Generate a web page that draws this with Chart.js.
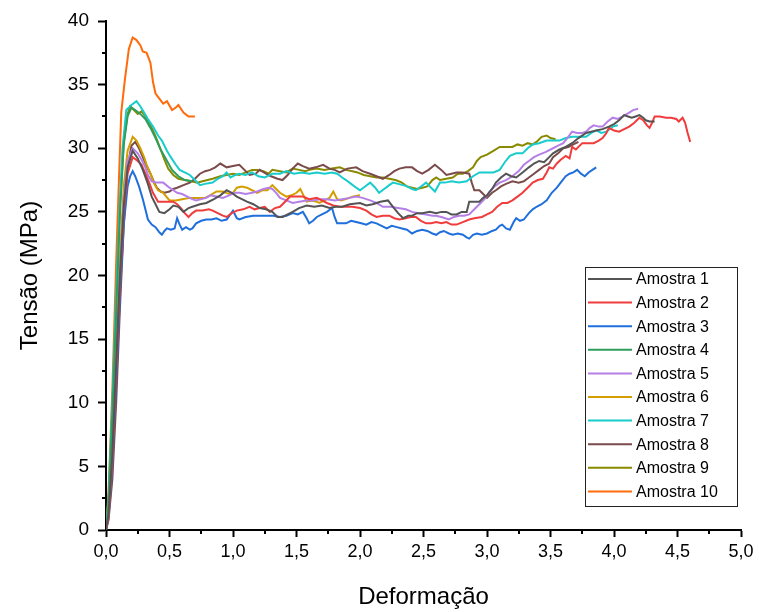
<!DOCTYPE html>
<html>
<head>
<meta charset="utf-8">
<title>Tensão x Deformação</title>
<script src="https://cdn.jsdelivr.net/npm/chart.js@4/dist/chart.umd.min.js"></script>
<style>
  html, body { margin: 0; padding: 0; background: #fff; }
  #wrap { width: 759px; height: 612px; }
</style>
</head>
<body>
<div id="wrap"><canvas id="stressChart" width="759" height="612"></canvas></div>
<script>
// Strain / stress readings for each specimen
const strain1 = [0, 0.02, 0.05, 0.08, 0.11, 0.14, 0.17, 0.21, 0.25, 0.29, 0.33, 0.36, 0.39, 0.42, 0.46, 0.5, 0.53, 0.57, 0.61, 0.65, 0.68, 0.74, 0.79, 0.85, 0.9, 0.95, 0.99, 1.03, 1.07, 1.11, 1.16, 1.21, 1.26, 1.31, 1.35, 1.39, 1.43, 1.47, 1.52, 1.58, 1.64, 1.7, 1.76, 1.81, 1.86, 1.92, 2.0, 2.05, 2.1, 2.16, 2.22, 2.26, 2.3, 2.34, 2.38, 2.41, 2.45, 2.49, 2.55, 2.6, 2.64, 2.68, 2.72, 2.76, 2.8, 2.84, 2.86, 2.9, 2.94, 2.97, 3.0, 3.04, 3.07, 3.11, 3.15, 3.19, 3.23, 3.28, 3.33, 3.37, 3.41, 3.45, 3.49, 3.52, 3.57, 3.62, 3.67, 3.72, 3.78, 3.82, 3.86, 3.91, 3.96, 4.0, 4.04, 4.08, 4.11, 4.14, 4.17, 4.2, 4.23, 4.25, 4.28, 4.32];
const stress1 = [0, 1.2, 6, 13, 20, 25.5, 28.5, 29.8, 29.2, 28.3, 27.2, 26.2, 25.6, 25.0, 24.9, 25.2, 25.5, 25.4, 25.0, 25.3, 25.4, 25.6, 25.7, 26.0, 26.3, 26.7, 26.5, 26.2, 26.0, 25.8, 25.6, 25.3, 25.2, 25.0, 24.6, 24.6, 24.8, 25.0, 25.3, 25.5, 25.4, 25.5, 25.3, 25.4, 25.4, 25.6, 25.7, 25.5, 25.6, 25.8, 25.9, 25.4, 24.9, 24.5, 24.7, 24.7, 24.9, 24.9, 25.0, 24.9, 25.0, 25.0, 24.8, 24.8, 25.0, 25.0, 25.8, 25.8, 25.8, 26.1, 26.3, 26.8, 27.3, 27.7, 28.0, 27.8, 27.7, 28.1, 28.5, 28.8, 29.0, 28.9, 29.3, 29.6, 29.9, 30.1, 30.4, 30.8, 31.2, 31.3, 31.4, 31.5, 31.7, 31.9, 32.2, 32.6, 32.5, 32.4, 32.5, 32.6, 32.4, 32.2, 32.1, 32.1];

const strain2 = [0, 0.02, 0.05, 0.08, 0.11, 0.14, 0.17, 0.21, 0.25, 0.28, 0.31, 0.34, 0.37, 0.41, 0.45, 0.49, 0.53, 0.56, 0.59, 0.62, 0.65, 0.68, 0.71, 0.76, 0.81, 0.84, 0.88, 0.92, 0.95, 0.99, 1.03, 1.08, 1.13, 1.17, 1.21, 1.25, 1.29, 1.33, 1.37, 1.41, 1.45, 1.5, 1.55, 1.6, 1.66, 1.7, 1.74, 1.79, 1.84, 1.9, 1.94, 2.0, 2.05, 2.09, 2.13, 2.18, 2.23, 2.27, 2.31, 2.36, 2.4, 2.44, 2.48, 2.52, 2.56, 2.6, 2.64, 2.68, 2.72, 2.76, 2.81, 2.86, 2.9, 2.96, 3.0, 3.04, 3.08, 3.12, 3.16, 3.2, 3.24, 3.28, 3.32, 3.36, 3.4, 3.44, 3.47, 3.49, 3.52, 3.55, 3.58, 3.62, 3.65, 3.67, 3.7, 3.75, 3.8, 3.84, 3.88, 3.91, 3.94, 3.96, 4.0, 4.04, 4.08, 4.12, 4.16, 4.2, 4.23, 4.26, 4.28, 4.3, 4.32, 4.36, 4.41, 4.45, 4.49, 4.51, 4.54, 4.56, 4.58, 4.6];
const stress2 = [0, 1.0, 5.5, 12.5, 19.5, 25, 28, 29.3, 29.0, 28.7, 28.0, 27.3, 26.5, 25.8, 25.8, 25.8, 25.8, 25.6, 25.3, 24.9, 24.6, 24.9, 25.1, 25.1, 25.2, 25.1, 24.9, 24.7, 24.6, 24.9, 25.1, 25.2, 25.4, 25.2, 25.3, 25.4, 25.0, 25.3, 25.4, 25.8, 26.2, 26.2, 26.2, 26.0, 26.1, 25.9, 25.7, 25.5, 25.4, 25.4, 25.4, 25.3, 25.1, 24.8, 24.6, 24.7, 24.7, 24.5, 24.4, 24.5, 24.6, 24.6, 24.3, 24.1, 24.1, 24.2, 24.1, 24.2, 24.0, 24.0, 24.2, 24.4, 24.5, 24.6, 24.8, 25.0, 25.4, 25.7, 25.7, 25.9, 26.2, 26.5, 26.9, 27.3, 27.5, 27.6, 28.1, 28.5, 28.4, 28.8, 29.1, 29.4, 29.2, 30.1, 29.9, 30.4, 30.4, 30.4, 30.6, 30.8, 31.2, 31.6, 31.4, 31.3, 31.5, 31.7, 32.0, 32.4, 32.2, 31.8, 31.6, 32.0, 32.5, 32.5, 32.4, 32.4, 32.3, 32.1, 32.4, 32.0, 31.2, 30.5];

const strain3 = [0, 0.02, 0.05, 0.08, 0.11, 0.14, 0.17, 0.19, 0.21, 0.23, 0.26, 0.29, 0.31, 0.33, 0.36, 0.39, 0.42, 0.44, 0.46, 0.48, 0.51, 0.54, 0.56, 0.58, 0.6, 0.63, 0.66, 0.68, 0.71, 0.75, 0.79, 0.83, 0.87, 0.91, 0.95, 1.0, 1.03, 1.05, 1.1, 1.16, 1.21, 1.27, 1.32, 1.37, 1.42, 1.47, 1.51, 1.55, 1.58, 1.6, 1.63, 1.66, 1.7, 1.74, 1.78, 1.8, 1.82, 1.86, 1.89, 1.93, 1.97, 2.01, 2.05, 2.09, 2.13, 2.17, 2.21, 2.25, 2.29, 2.33, 2.37, 2.41, 2.45, 2.49, 2.53, 2.57, 2.6, 2.63, 2.66, 2.7, 2.73, 2.77, 2.81, 2.84, 2.86, 2.89, 2.92, 2.96, 3.0, 3.04, 3.07, 3.1, 3.12, 3.15, 3.18, 3.21, 3.23, 3.26, 3.29, 3.33, 3.36, 3.39, 3.43, 3.47, 3.51, 3.55, 3.58, 3.62, 3.65, 3.68, 3.71, 3.74, 3.77, 3.8, 3.83, 3.86];
const stress3 = [0, 1.0, 5, 11.5, 18.5, 24, 27, 27.8, 28.2, 27.8, 27.0, 26.0, 25.2, 24.4, 24.0, 23.8, 23.4, 23.2, 23.5, 23.7, 23.6, 23.7, 24.5, 24.0, 23.6, 23.8, 23.6, 23.7, 24.1, 24.3, 24.4, 24.4, 24.5, 24.3, 24.4, 25.1, 24.5, 24.4, 24.6, 24.7, 24.7, 24.7, 24.7, 24.6, 24.7, 24.9, 24.8, 25.0, 24.5, 24.1, 24.3, 24.6, 24.8, 25.0, 25.3, 24.6, 24.1, 24.1, 24.1, 24.3, 24.2, 24.1, 24.0, 24.2, 24.1, 23.9, 23.7, 23.9, 23.8, 23.7, 23.6, 23.3, 23.5, 23.6, 23.5, 23.3, 23.2, 23.4, 23.5, 23.3, 23.2, 23.3, 23.2, 23.0, 22.9, 23.2, 23.3, 23.2, 23.3, 23.5, 23.6, 23.9, 24.0, 23.7, 23.6, 24.2, 24.5, 24.3, 24.4, 24.9, 25.2, 25.4, 25.6, 25.9, 26.5, 26.9, 27.3, 27.8, 28.0, 28.1, 28.3, 28.0, 27.8, 28.1, 28.3, 28.5];

const strain4 = [0, 0.02, 0.05, 0.08, 0.11, 0.14, 0.17, 0.2, 0.23, 0.27, 0.31, 0.35, 0.39, 0.43, 0.47, 0.52, 0.57, 0.62, 0.68];
const stress4 = [0, 2.0, 9, 17, 25, 30.3, 32.5, 33.2, 33.0, 32.7, 32.3, 31.6, 30.8, 29.9, 29.2, 28.3, 27.8, 27.5, 27.4];

const strain5 = [0, 0.02, 0.05, 0.08, 0.11, 0.14, 0.17, 0.21, 0.25, 0.28, 0.31, 0.33, 0.36, 0.4, 0.45, 0.5, 0.53, 0.56, 0.6, 0.64, 0.68, 0.71, 0.75, 0.79, 0.82, 0.87, 0.92, 0.97, 1.01, 1.05, 1.1, 1.15, 1.19, 1.24, 1.28, 1.31, 1.34, 1.37, 1.42, 1.47, 1.52, 1.58, 1.63, 1.68, 1.74, 1.8, 1.86, 1.92, 1.97, 2.02, 2.08, 2.13, 2.18, 2.24, 2.3, 2.36, 2.41, 2.46, 2.52, 2.57, 2.6, 2.64, 2.7, 2.74, 2.78, 2.82, 2.86, 2.9, 2.94, 2.98, 3.02, 3.06, 3.1, 3.15, 3.2, 3.25, 3.29, 3.33, 3.37, 3.41, 3.46, 3.52, 3.56, 3.6, 3.64, 3.67, 3.71, 3.75, 3.78, 3.81, 3.84, 3.88, 3.91, 3.95, 3.99, 4.03, 4.07, 4.12, 4.15, 4.19];
const stress5 = [0, 1.2, 6, 13, 20.5, 26, 29, 30.0, 29.6, 29.1, 28.5, 27.9, 27.4, 27.3, 27.3, 26.9, 26.7, 26.5, 26.4, 26.2, 26.0, 25.9, 26.0, 26.1, 26.3, 26.2, 26.1, 26.3, 26.5, 26.5, 26.4, 26.5, 26.6, 26.8, 26.9, 26.8, 26.5, 26.1, 25.9, 25.7, 25.8, 25.9, 25.9, 26.0, 26.0, 25.9, 26.0, 26.1, 26.2, 26.1, 25.9, 25.7, 25.4, 25.4, 25.3, 25.2, 25.0, 24.9, 24.8, 24.7, 24.7, 24.6, 24.4, 24.6, 24.7, 24.7, 24.8, 25.2, 25.6, 26.0, 26.6, 27.0, 27.3, 27.5, 27.8, 28.2, 28.7, 29.0, 29.3, 29.5, 29.7, 30.0, 30.2, 30.4, 30.9, 31.3, 31.2, 31.2, 31.3, 31.6, 31.8, 31.7, 31.7, 32.1, 32.4, 32.3, 32.5, 32.8, 33.0, 33.1];

const strain6 = [0, 0.02, 0.05, 0.08, 0.11, 0.14, 0.17, 0.21, 0.24, 0.27, 0.3, 0.32, 0.35, 0.38, 0.41, 0.45, 0.5, 0.55, 0.6, 0.66, 0.72, 0.78, 0.82, 0.87, 0.92, 0.97, 1.0, 1.03, 1.07, 1.11, 1.15, 1.19, 1.23, 1.27, 1.31, 1.34, 1.37, 1.42, 1.46, 1.5, 1.53, 1.56, 1.58, 1.62, 1.66, 1.68, 1.72, 1.76, 1.79, 1.82, 1.85, 1.89, 1.94, 2.0];
const stress6 = [0, 1.5, 7, 14, 21.5, 27, 29.8, 30.9, 30.6, 30.0, 29.3, 28.7, 28.0, 27.2, 26.7, 26.5, 25.9, 25.9, 26.0, 26.1, 26.1, 26.1, 26.3, 26.6, 26.6, 26.4, 26.5, 26.9, 27.0, 26.9, 26.7, 26.5, 26.7, 26.7, 27.1, 26.8, 26.5, 26.2, 26.3, 26.5, 26.8, 26.2, 25.8, 25.9, 25.8, 25.7, 25.9, 26.1, 26.6, 26.0, 25.9, 26.0, 26.2, 26.3];

const strain7 = [0, 0.02, 0.05, 0.08, 0.11, 0.13, 0.16, 0.2, 0.24, 0.27, 0.3, 0.33, 0.37, 0.41, 0.44, 0.48, 0.51, 0.55, 0.58, 0.62, 0.66, 0.7, 0.74, 0.78, 0.84, 0.88, 0.92, 0.95, 0.98, 1.02, 1.05, 1.1, 1.15, 1.2, 1.25, 1.31, 1.37, 1.42, 1.48, 1.54, 1.6, 1.66, 1.72, 1.78, 1.82, 1.86, 1.89, 1.93, 1.97, 2.0, 2.04, 2.08, 2.12, 2.15, 2.19, 2.23, 2.26, 2.3, 2.34, 2.37, 2.41, 2.44, 2.48, 2.52, 2.56, 2.59, 2.63, 2.67, 2.72, 2.78, 2.84, 2.89, 2.94, 3.0, 3.05, 3.1, 3.14, 3.18, 3.23, 3.28, 3.32, 3.36, 3.41, 3.47, 3.52, 3.57, 3.62, 3.67, 3.72, 3.78, 3.82, 3.86, 3.9, 3.94, 3.99, 4.03];
const stress7 = [0, 2.5, 10, 18.5, 26, 30, 33.0, 33.4, 33.7, 33.3, 32.8, 32.3, 31.7, 31.0, 30.6, 29.8, 29.3, 28.7, 28.3, 28.1, 27.9, 27.5, 27.1, 27.2, 27.3, 27.6, 27.8, 28.1, 27.7, 27.9, 28.0, 27.9, 28.1, 27.8, 27.7, 28.0, 28.0, 28.2, 28.0, 28.1, 28.0, 28.1, 28.0, 28.1, 28.0, 27.7, 27.5, 27.2, 26.9, 26.7, 27.0, 27.3, 26.9, 26.5, 26.8, 27.1, 27.3, 27.2, 27.1, 27.0, 26.8, 26.7, 27.0, 27.3, 26.9, 26.6, 27.3, 27.3, 27.4, 27.3, 27.4, 27.8, 28.1, 28.1, 28.1, 28.3, 28.9, 29.4, 29.6, 29.6, 30.0, 30.3, 30.4, 30.6, 30.6, 30.6, 30.8, 30.9, 30.9, 30.9, 31.2, 31.4, 31.2, 31.3, 31.7, 31.8];

const strain8 = [0, 0.02, 0.05, 0.08, 0.11, 0.14, 0.17, 0.2, 0.23, 0.26, 0.29, 0.32, 0.35, 0.38, 0.4, 0.43, 0.46, 0.5, 0.53, 0.56, 0.61, 0.66, 0.7, 0.74, 0.78, 0.82, 0.86, 0.9, 0.95, 1.0, 1.05, 1.09, 1.13, 1.18, 1.21, 1.26, 1.3, 1.35, 1.39, 1.43, 1.47, 1.51, 1.55, 1.6, 1.65, 1.71, 1.76, 1.8, 1.84, 1.9, 1.97, 2.02, 2.08, 2.13, 2.18, 2.23, 2.27, 2.31, 2.36, 2.41, 2.45, 2.49, 2.54, 2.59, 2.64, 2.68, 2.72, 2.76, 2.81, 2.86, 2.88, 2.9, 2.94, 2.97, 3.0, 3.04, 3.07, 3.11, 3.15, 3.2, 3.25, 3.29, 3.33, 3.37, 3.41, 3.45, 3.49, 3.52, 3.56, 3.6, 3.64, 3.68, 3.72];
const stress8 = [0, 0.8, 4, 10, 17.5, 24, 28.5, 30.2, 30.5, 30.0, 29.3, 28.6, 28.0, 27.3, 26.9, 26.6, 26.5, 26.6, 26.8, 26.9, 27.1, 27.3, 27.6, 28.0, 28.2, 28.3, 28.5, 28.8, 28.5, 28.6, 28.7, 28.3, 27.9, 28.0, 28.3, 28.0, 27.8, 27.6, 27.5, 27.9, 28.4, 28.8, 28.6, 28.4, 28.5, 28.7, 28.4, 28.3, 28.1, 28.4, 28.5, 28.2, 28.0, 27.8, 27.6, 27.9, 28.2, 28.4, 28.5, 28.5, 28.2, 28.0, 28.3, 28.7, 28.3, 27.9, 28.0, 28.1, 28.1, 28.0, 27.3, 26.7, 26.7, 26.4, 26.1, 26.5, 26.7, 27.0, 27.2, 27.4, 27.3, 27.4, 27.7, 28.0, 28.3, 28.6, 28.8, 29.3, 29.6, 30.0, 30.1, 30.3, 30.5];

const strain9 = [0, 0.02, 0.05, 0.08, 0.11, 0.14, 0.17, 0.19, 0.22, 0.25, 0.28, 0.31, 0.34, 0.37, 0.4, 0.43, 0.46, 0.49, 0.53, 0.57, 0.62, 0.67, 0.72, 0.76, 0.8, 0.84, 0.9, 0.95, 1.0, 1.05, 1.1, 1.15, 1.19, 1.24, 1.28, 1.31, 1.37, 1.42, 1.47, 1.52, 1.57, 1.6, 1.66, 1.72, 1.78, 1.84, 1.89, 1.94, 1.98, 2.03, 2.08, 2.13, 2.18, 2.23, 2.28, 2.33, 2.37, 2.41, 2.45, 2.49, 2.53, 2.57, 2.6, 2.63, 2.68, 2.73, 2.77, 2.81, 2.85, 2.89, 2.92, 2.95, 3.0, 3.05, 3.1, 3.15, 3.2, 3.24, 3.28, 3.32, 3.36, 3.39, 3.43, 3.47, 3.5, 3.54];
const stress9 = [0, 2.2, 9.5, 18, 25.5, 30.5, 32.7, 33.3, 33.0, 32.7, 32.9, 32.5, 32.0, 31.4, 30.7, 29.9, 29.1, 28.4, 27.9, 27.6, 27.5, 27.4, 27.3, 27.4, 27.5, 27.6, 27.8, 27.9, 28.0, 27.9, 28.1, 28.3, 28.3, 28.2, 28.0, 28.3, 28.2, 28.1, 28.4, 28.3, 28.2, 28.3, 28.4, 28.3, 28.4, 28.5, 28.3, 28.2, 28.1, 27.9, 27.8, 27.7, 27.7, 27.6, 27.5, 27.3, 27.0, 26.9, 26.8, 26.9, 27.0, 27.5, 27.7, 27.5, 27.6, 27.7, 28.0, 28.0, 28.2, 28.5, 29.0, 29.3, 29.5, 29.8, 30.1, 30.1, 30.1, 30.3, 30.2, 30.4, 30.3, 30.5, 30.9, 31.0, 30.8, 30.7];

const strain10 = [0, 0.02, 0.05, 0.08, 0.1, 0.12, 0.15, 0.18, 0.21, 0.24, 0.27, 0.29, 0.32, 0.35, 0.37, 0.39, 0.42, 0.45, 0.48, 0.52, 0.55, 0.57, 0.61, 0.65, 0.7];
const stress10 = [0, 3, 11, 21, 27, 32.8, 35.5, 37.8, 38.7, 38.5, 38.1, 37.6, 37.5, 36.7, 35.2, 34.3, 33.9, 33.5, 33.7, 33.0, 33.2, 33.4, 32.8, 32.5, 32.5];

const sampleLabels = ['Amostra 1', 'Amostra 2', 'Amostra 3', 'Amostra 4', 'Amostra 5',
                      'Amostra 6', 'Amostra 7', 'Amostra 8', 'Amostra 9', 'Amostra 10'];
const sampleColors = ['#545454', '#f03c3c', '#1f6fdc', '#2e9e5e', '#b57fe6',
                      '#d29e00', '#19cccc', '#7b4a4a', '#8a8a00', '#ff6a0a'];
const strains = [strain1, strain2, strain3, strain4, strain5, strain6, strain7, strain8, strain9, strain10];
const stresses = [stress1, stress2, stress3, stress4, stress5, stress6, stress7, stress8, stress9, stress10];

const FONT = "'Liberation Sans', Arial, sans-serif";

const datasets = sampleLabels.map((label, i) => ({
    label: label,
    data: strains[i].map((x, j) => ({ x: x, y: stresses[i][j] })),
    borderColor: sampleColors[i],
    backgroundColor: sampleColors[i],
    borderWidth: 2,
    pointRadius: 0,
    showLine: true,
    tension: 0
}));

// Short minor ticks half way between the labelled ones
const minorTicks = {
    id: 'minorTicks',
    afterDraw(chart) {
        const ctx = chart.ctx;
        const xs = chart.scales.x, ys = chart.scales.y;
        const area = chart.chartArea;
        ctx.save();
        ctx.strokeStyle = '#000';
        ctx.lineWidth = 2;
        ctx.beginPath();
        for (let v = 0.25; v < 5; v += 0.5) {
            const px = Math.round(xs.getPixelForValue(v));
            ctx.moveTo(px, area.bottom);
            ctx.lineTo(px, area.bottom + 4);
        }
        for (let v = 2.5; v < 40; v += 5) {
            const py = Math.round(ys.getPixelForValue(v));
            ctx.moveTo(area.left, py);
            ctx.lineTo(area.left - 4, py);
        }
        ctx.stroke();
        ctx.restore();
    }
};

// Boxed legend inside the lower right of the plot
const boxLegend = {
    id: 'boxLegend',
    afterDraw(chart) {
        const ctx = chart.ctx;
        const area = chart.chartArea;
        const boxW = 152, rowH = 23.6;
        const boxH = rowH * chart.data.datasets.length + 3;
        const left = area.right - boxW - 4;
        const top = area.bottom - boxH - 24;
        ctx.save();
        ctx.fillStyle = '#fff';
        ctx.fillRect(left, top, boxW, boxH);
        ctx.strokeStyle = '#222';
        ctx.lineWidth = 1;
        ctx.strokeRect(left + 0.5, top + 0.5, boxW, boxH);
        ctx.font = '16px ' + FONT;
        ctx.textBaseline = 'middle';
        chart.data.datasets.forEach((ds, i) => {
            const y = top + 12 + i * rowH;
            ctx.strokeStyle = ds.borderColor;
            ctx.lineWidth = 2;
            ctx.beginPath();
            ctx.moveTo(left + 3, y);
            ctx.lineTo(left + 47, y);
            ctx.stroke();
            ctx.fillStyle = '#000';
            ctx.fillText(ds.label, left + 51, y + 1);
        });
        ctx.restore();
    }
};

const commaLabel = v => v.toFixed(1).replace('.', ',');

new Chart(document.getElementById('stressChart').getContext('2d'), {
    type: 'scatter',
    data: { datasets: datasets },
    options: {
        responsive: false,
        animation: false,
        layout: { padding: { left: 16, top: 21, right: 18, bottom: 0 } },
        plugins: {
            legend: { display: false },
            tooltip: { enabled: false }
        },
        scales: {
            x: {
                type: 'linear',
                min: 0,
                max: 5,
                afterFit: scale => { scale.height = 82; },
                ticks: {
                    stepSize: 0.5,
                    color: '#000',
                    padding: 4,
                    maxRotation: 0,
                    font: { family: FONT, size: 18 },
                    callback: v => commaLabel(v)
                },
                grid: { drawOnChartArea: false, tickLength: 7, tickWidth: 2, tickColor: '#000' },
                border: { color: '#000', width: 2 },
                title: {
                    display: true,
                    text: 'Deformação',
                    color: '#000',
                    padding: { top: 0, bottom: 0 },
                    font: { family: FONT, size: 24 }
                }
            },
            y: {
                type: 'linear',
                min: 0,
                max: 40,
                afterFit: scale => { scale.width = 90; },
                ticks: {
                    stepSize: 5,
                    color: '#000',
                    padding: 9,
                    font: { family: FONT, size: 19 }
                },
                grid: { drawOnChartArea: false, tickLength: 8, tickWidth: 2, tickColor: '#000' },
                border: { color: '#000', width: 2 },
                title: {
                    display: true,
                    text: 'Tensão (MPa)',
                    color: '#000',
                    padding: { top: 0, bottom: 0 },
                    font: { family: FONT, size: 24 }
                }
            }
        }
    },
    plugins: [minorTicks, boxLegend]
});
</script>
</body>
</html>
